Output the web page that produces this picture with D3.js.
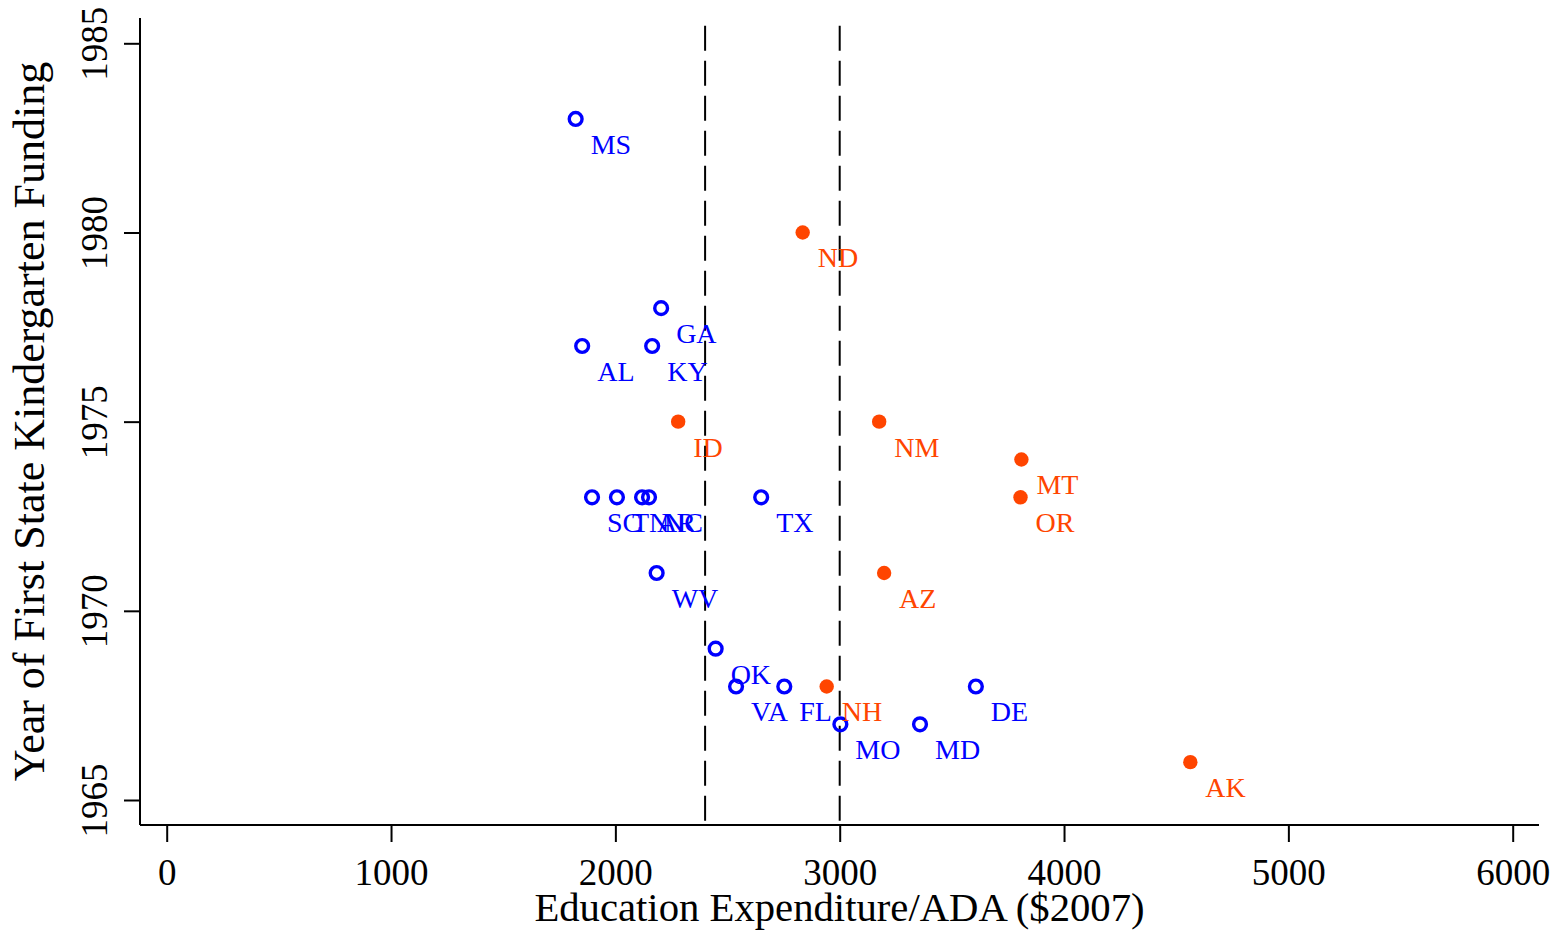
<!DOCTYPE html>
<html>
<head>
<meta charset="utf-8">
<script src="https://cdn.jsdelivr.net/npm/d3@7"></script>
<style>
  html, body { margin: 0; padding: 0; background: #fff; }
  svg { display: block; }
  text { font-family: "Liberation Serif", "DejaVu Serif", serif; }
</style>
</head>
<body>
<svg id="chart" width="1564" height="932"></svg>
<script>
// ---- data ----
const states   = ["MS","ND","GA","AL","KY","ID","NM","MT","OR","SC","TN","AR","NC","TX","WV","AZ","OK","VA","FL","NH","DE","MO","MD","AK"];
const spending = [1823, 2835, 2204, 1852, 2164, 2280, 3176, 3810, 3806, 1896, 2007, 2119, 2150, 2650, 2184, 3198, 2447, 2538, 2753, 2942, 3607, 3003, 3358, 4563];
const yearFund = [1983, 1980, 1978, 1977, 1977, 1975, 1975, 1974, 1973, 1973, 1973, 1973, 1973, 1973, 1971, 1971, 1969, 1968, 1968, 1968, 1968, 1967, 1967, 1966];
const group    = ["south","west","south","south","south","west","west","west","west","south","south","south","south","south","south","west","south","south","south","west","south","south","south","west"];
const xTicks = [0, 1000, 2000, 3000, 4000, 5000, 6000];
const yTicks = [1965, 1970, 1975, 1980, 1985];
const refLines = [2400, 3000];
const xTitle = "Education Expenditure/ADA ($2007)";
const yTitle = "Year of First State Kindergarten Funding";

const colors = { south: "#0000ff", west: "#ff4500" };

const svg = d3.select("#chart");
const plot = { left: 140, right: 1539, top: 18, bottom: 825 };

const x = d3.scaleLinear().domain([0, 6000]).range([166.7, 1512.7]);
const y = d3.scaleLinear().domain([1965, 1985]).range([800, 43.3]);
const fmt = d3.format("d");

// axes
const xAxis = svg.append("g").attr("transform", `translate(0,${plot.bottom})`)
  .call(d3.axisBottom(x).tickValues(xTicks).tickFormat(fmt).tickSize(17).tickSizeOuter(0));
xAxis.select(".domain").attr("d", `M${plot.left},0H${plot.right}`).attr("stroke", "#000").attr("stroke-width", 2);
xAxis.selectAll(".tick line").attr("stroke-width", 2);
xAxis.selectAll(".tick text").attr("font-size", 37).attr("fill", "#000")
  .attr("dy", null).attr("y", 60);

const yAxis = svg.append("g").attr("transform", `translate(${plot.left},0)`)
  .call(d3.axisLeft(y).tickValues(yTicks).tickFormat(fmt).tickSize(16).tickSizeOuter(0));
yAxis.select(".domain").attr("d", `M0,${plot.top}V${plot.bottom}`).attr("stroke", "#000").attr("stroke-width", 2);
yAxis.selectAll(".tick line").attr("stroke-width", 2);
yAxis.selectAll(".tick text")
  .attr("x", null).attr("dy", null)
  .attr("transform", "translate(-33,0) rotate(-90)")
  .attr("text-anchor", "middle").attr("font-size", 37).attr("fill", "#000");

// reference lines
svg.append("g").selectAll("line").data(refLines).join("line")
  .attr("x1", d => x(d)).attr("x2", d => x(d))
  .attr("y1", 25.7).attr("y2", plot.bottom)
  .attr("stroke", "#000").attr("stroke-width", 2)
  .attr("stroke-dasharray", "25 10");

// points
const data = states.map((s, i) => ({ s, v: spending[i], yr: yearFund[i], g: group[i] }));
const pts = svg.append("g");
pts.selectAll("circle").data(data).join("circle")
  .attr("cx", d => x(d.v)).attr("cy", d => y(d.yr))
  .attr("r", d => d.g === "south" ? 6.4 : 7.2)
  .attr("fill", d => d.g === "south" ? "none" : colors.west)
  .attr("stroke", d => d.g === "south" ? colors.south : "none")
  .attr("stroke-width", 3.4);

// labels
svg.append("g").selectAll("text").data(data).join("text")
  .attr("x", d => x(d.v) + 15)
  .attr("y", d => y(d.yr) + 35)
  .attr("font-size", 28)
  .attr("fill", d => colors[d.g])
  .text(d => d.s);

// titles
svg.append("text").attr("x", (plot.left + plot.right) / 2).attr("y", 921)
  .attr("text-anchor", "middle").attr("font-size", 40.7).attr("fill", "#000").text(xTitle);
svg.append("text").attr("transform", `translate(44,${(plot.top + plot.bottom) / 2}) rotate(-90)`)
  .attr("text-anchor", "middle").attr("font-size", 44).attr("fill", "#000").text(yTitle);
</script>
</body>
</html>
